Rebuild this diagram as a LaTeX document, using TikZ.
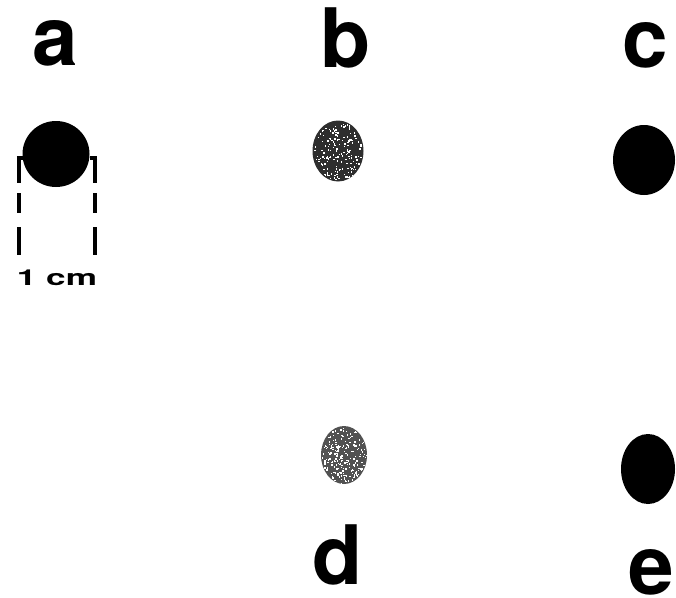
\documentclass[tikz,border=0pt]{standalone}
\usepackage{fontspec}
\newfontfamily\lblfont{TeX Gyre Heros}
\usetikzlibrary{shapes.geometric}
\tikzset{
  lbl/.style={font=\lblfont\bfseries\fontsize{82}{82}\selectfont, anchor=base, inner sep=0pt, text depth=0pt},
  soliddot/.style={ellipse, fill=black, draw=none, inner sep=0pt},
  greydot/.style={ellipse, fill=black!82, draw=none, inner sep=0pt},
  paledot/.style={ellipse, fill=black!68, draw=none, inner sep=0pt},
  bracket/.style={line width=4.5pt, dash pattern=on 25pt off 10pt on 20pt off 14pt on 30pt},
  stub/.style={line width=4.5pt},
  scaletext/.style={font=\lblfont\bfseries\fontsize{22}{22}\selectfont, anchor=base, inner sep=0pt, text depth=0pt, xscale=1.6}
}
\begin{document}
\begin{tikzpicture}[x=1pt,y=-1pt]
\useasboundingbox (0,0) rectangle (676,597);
% labels
\node[lbl] (la) at (55,65) {a};
\node[lbl] (lb) at (346,67) {b};
\node[lbl] (lc) at (645,67) {c};
\node[lbl] (ld) at (338,584) {d};
\node[lbl] (le) at (651,594) {e};
% dots
\node[soliddot, minimum width=67pt, minimum height=66pt] (da) at (56,154) {};
\node[greydot, minimum width=51pt, minimum height=61pt] (db) at (338,151) {};
\node[soliddot, minimum width=62pt, minimum height=70pt] (dc) at (644,160) {};
\node[paledot, minimum width=46pt, minimum height=58pt] (dd) at (344,455) {};
\node[soliddot, minimum width=54pt, minimum height=70pt] (de) at (648,469) {};
% speckles on b and d
\pgfmathsetseed{7}
\foreach \i in {1,...,170}{
  \pgfmathsetmacro\ang{rnd*360}
  \pgfmathsetmacro\rr{sqrt(rnd)}
  \fill[white] ({338+24*\rr*cos(\ang)},{151+29*\rr*sin(\ang)}) rectangle +(1.4,1.4);
}
\foreach \i in {1,...,220}{
  \pgfmathsetmacro\ang{rnd*360}
  \pgfmathsetmacro\rr{sqrt(rnd)}
  \fill[white] ({344+22*\rr*cos(\ang)},{455+28*\rr*sin(\ang)}) rectangle +(1.4,1.4);
}
% scale bracket
\coordinate (lt) at (19,158);
\coordinate (lb2) at (19,255);
\coordinate (rt) at (95,158);
\coordinate (rb) at (95,255);
\draw[bracket] (lt) -- (lb2);
\draw[bracket] (rt) -- (rb);
\draw[stub] ([xshift=-2.25pt]lt) -- ++(7,0);
\draw[stub] ([xshift=2.25pt]rt) -- ++(-7,0);
\node[scaletext] (cm) at (57,285) {1 cm};
\end{tikzpicture}
\end{document}
